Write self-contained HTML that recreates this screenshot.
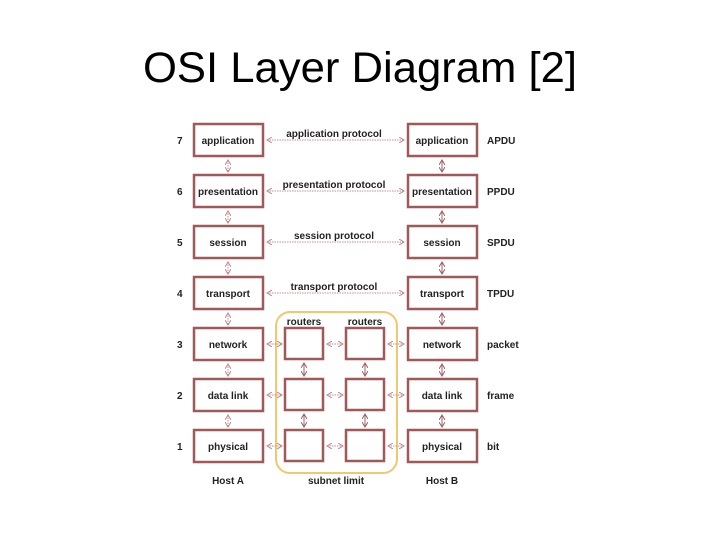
<!DOCTYPE html>
<html><head><meta charset="utf-8"><style>
html,body{margin:0;padding:0;background:#fff;}
svg{display:block;}
</style></head><body>
<svg width="720" height="540" xmlns="http://www.w3.org/2000/svg" font-family="Liberation Sans, Arial, sans-serif">
<defs>
<marker id="ah" viewBox="0 0 6 6" refX="5" refY="3" markerWidth="6" markerHeight="6" orient="auto-start-reverse" markerUnits="userSpaceOnUse">
<path d="M0,0 L5,3 L0,6" fill="none" stroke="#c08888" stroke-width="1"/>
</marker>
<marker id="ah2" viewBox="0 0 6 6" refX="5" refY="3" markerWidth="6" markerHeight="6" orient="auto-start-reverse" markerUnits="userSpaceOnUse">
<path d="M0,0 L5,3 L0,6" fill="none" stroke="#a06060" stroke-width="1"/>
</marker>
</defs>
<text x="360" y="82" font-size="43" text-anchor="middle" textLength="434" lengthAdjust="spacingAndGlyphs" fill="#000">OSI Layer Diagram [2]</text>

<rect x="276" y="312" width="121" height="161" rx="14" fill="none" stroke="#f0c870" stroke-width="2"/>

<g fill="none" stroke="#a05858" stroke-width="2.5">
<rect x="194" y="124" width="69" height="32"/>
<rect x="194" y="175" width="69" height="32"/>
<rect x="194" y="226" width="69" height="32"/>
<rect x="194" y="277" width="69" height="32"/>
<rect x="194" y="328" width="69" height="32"/>
<rect x="194" y="379" width="69" height="32"/>
<rect x="194" y="430" width="69" height="32"/>
<rect x="408" y="124" width="69" height="32"/>
<rect x="408" y="175" width="69" height="32"/>
<rect x="408" y="226" width="69" height="32"/>
<rect x="408" y="277" width="69" height="32"/>
<rect x="408" y="328" width="69" height="32"/>
<rect x="408" y="379" width="69" height="32"/>
<rect x="408" y="430" width="69" height="32"/>
<rect x="285" y="328" width="38" height="31"/>
<rect x="346" y="328" width="38" height="31"/>
<rect x="285" y="379" width="38" height="31"/>
<rect x="346" y="379" width="38" height="31"/>
<rect x="285" y="430" width="38" height="31"/>
<rect x="346" y="430" width="38" height="31"/>
</g>

<g stroke="#c89090" stroke-width="1" stroke-dasharray="1.5,1" marker-start="url(#ah)" marker-end="url(#ah)">
<line x1="267" y1="140" x2="404" y2="140"/>
<line x1="267" y1="191" x2="404" y2="191"/>
<line x1="267" y1="242" x2="404" y2="242"/>
<line x1="267" y1="293" x2="404" y2="293"/>
<line x1="267" y1="344" x2="282" y2="344"/>
<line x1="327" y1="344" x2="343" y2="344"/>
<line x1="388" y1="344" x2="404" y2="344"/>
<line x1="267" y1="395" x2="282" y2="395"/>
<line x1="327" y1="395" x2="343" y2="395"/>
<line x1="388" y1="395" x2="404" y2="395"/>
<line x1="267" y1="446" x2="282" y2="446"/>
<line x1="327" y1="446" x2="343" y2="446"/>
<line x1="388" y1="446" x2="404" y2="446"/>
<line x1="228" y1="160" x2="228" y2="172"/>
<line x1="228" y1="211" x2="228" y2="223"/>
<line x1="228" y1="262" x2="228" y2="274"/>
<line x1="228" y1="313" x2="228" y2="325"/>
<line x1="228" y1="364" x2="228" y2="376"/>
<line x1="228" y1="415" x2="228" y2="427"/>
</g>
<g stroke="#a06060" stroke-width="1" marker-start="url(#ah2)" marker-end="url(#ah2)">
<line x1="442" y1="160" x2="442" y2="172"/>
<line x1="442" y1="211" x2="442" y2="223"/>
<line x1="442" y1="262" x2="442" y2="274"/>
<line x1="442" y1="313" x2="442" y2="325"/>
<line x1="442" y1="364" x2="442" y2="376"/>
<line x1="442" y1="415" x2="442" y2="427"/>
<line x1="304" y1="363" x2="304" y2="376"/>
<line x1="365" y1="363" x2="365" y2="376"/>
<line x1="304" y1="414" x2="304" y2="427"/>
<line x1="365" y1="414" x2="365" y2="427"/>
</g>

<g font-size="10" font-weight="bold" fill="#222" text-anchor="middle">
<text x="228" y="144">application</text>
<text x="228" y="195">presentation</text>
<text x="228" y="246">session</text>
<text x="228" y="297">transport</text>
<text x="228" y="348">network</text>
<text x="228" y="399">data link</text>
<text x="228" y="450">physical</text>
<text x="442" y="144">application</text>
<text x="442" y="195">presentation</text>
<text x="442" y="246">session</text>
<text x="442" y="297">transport</text>
<text x="442" y="348">network</text>
<text x="442" y="399">data link</text>
<text x="442" y="450">physical</text>
<text x="334" y="137">application protocol</text>
<text x="334" y="188">presentation protocol</text>
<text x="334" y="239">session protocol</text>
<text x="334" y="290">transport protocol</text>
<text x="304" y="325">routers</text>
<text x="365" y="325">routers</text>
<text x="228" y="484">Host A</text>
<text x="336" y="484">subnet limit</text>
<text x="442" y="484">Host B</text>
</g>
<g font-size="10" font-weight="bold" fill="#222">
<text x="177" y="144">7</text>
<text x="177" y="195">6</text>
<text x="177" y="246">5</text>
<text x="177" y="297">4</text>
<text x="177" y="348">3</text>
<text x="177" y="399">2</text>
<text x="177" y="450">1</text>
<text x="487" y="144">APDU</text>
<text x="487" y="195">PPDU</text>
<text x="487" y="246">SPDU</text>
<text x="487" y="297">TPDU</text>
<text x="487" y="348">packet</text>
<text x="487" y="399">frame</text>
<text x="487" y="450">bit</text>
</g>
</svg>
</body></html>
